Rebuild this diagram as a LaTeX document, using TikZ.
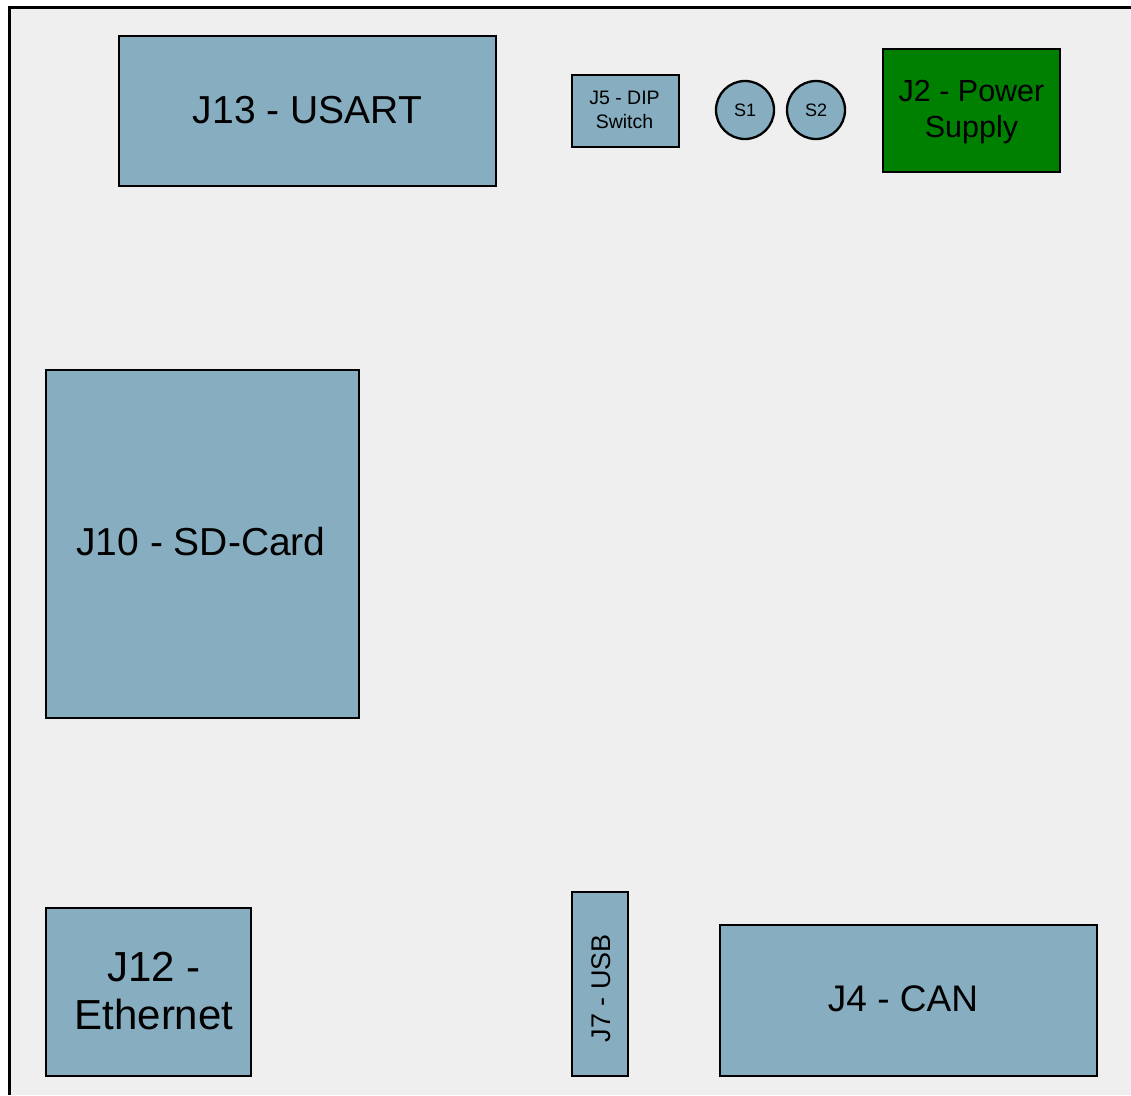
\documentclass[tikz,border=0pt]{standalone}
\usepackage{fontspec}
\setmainfont{Liberation Sans}
\definecolor{boardbg}{RGB}{239,239,239}
\definecolor{partblue}{RGB}{134,174,192}
\definecolor{pwrgreen}{RGB}{0,128,0}
\begin{document}
\begin{tikzpicture}[x=1pt,y=-1pt,
  part/.style={draw=black,line width=2.3pt,fill=partblue,inner sep=0pt,align=center,text=black},
  circpart/.style={draw=black,line width=2.3pt,fill=partblue,circle,minimum size=58pt,inner sep=0pt,font=\fontsize{18}{20}\selectfont}]
\useasboundingbox (0,0) rectangle (1131,1095);
\fill[white] (0,0) rectangle (1131,1095);
% board
\fill[boardbg] (9,7) rectangle (1131,1095);
\draw[line width=3pt] (9,1095) -- (9,7) -- (1131,7);
% parts
\draw[part] (119,36) rectangle (496,186);
\node[font=\fontsize{39}{45}\selectfont] (j13) at (307.5,110) {J13 - USART};
\draw[part] (572,75) rectangle (679,147);
\node[align=center,font=\fontsize{19.5}{24}\selectfont] (j5) at (624.5,110) {J5 - DIP\\Switch};
\node[circpart] (s1) at (745,110) {S1};
\node[circpart] (s2) at (816,110) {S2};
\draw[part,fill=pwrgreen] (883,49) rectangle (1060,172);
\node[align=center,font=\fontsize{30.5}{36}\selectfont] (j2) at (971.5,112) {J2 - Power\\Supply};
\draw[part] (46,370) rectangle (359,718);
\node[font=\fontsize{39}{45}\selectfont] (j10) at (201,542) {J10 - SD-Card};
\draw[part] (46,908) rectangle (251,1076);
\node[align=center,font=\fontsize{42}{48}\selectfont] (j12) at (154,991) {J12 -\\Ethernet};
\draw[part] (572,892) rectangle (628,1076);
\node[rotate=90,font=\fontsize{27}{30}\selectfont] (j7) at (601,988) {J7 - USB};
\draw[part] (720,925) rectangle (1097,1076);
\node[font=\fontsize{37}{42}\selectfont] (j4) at (903,999) {J4 - CAN};
\end{tikzpicture}
\end{document}
